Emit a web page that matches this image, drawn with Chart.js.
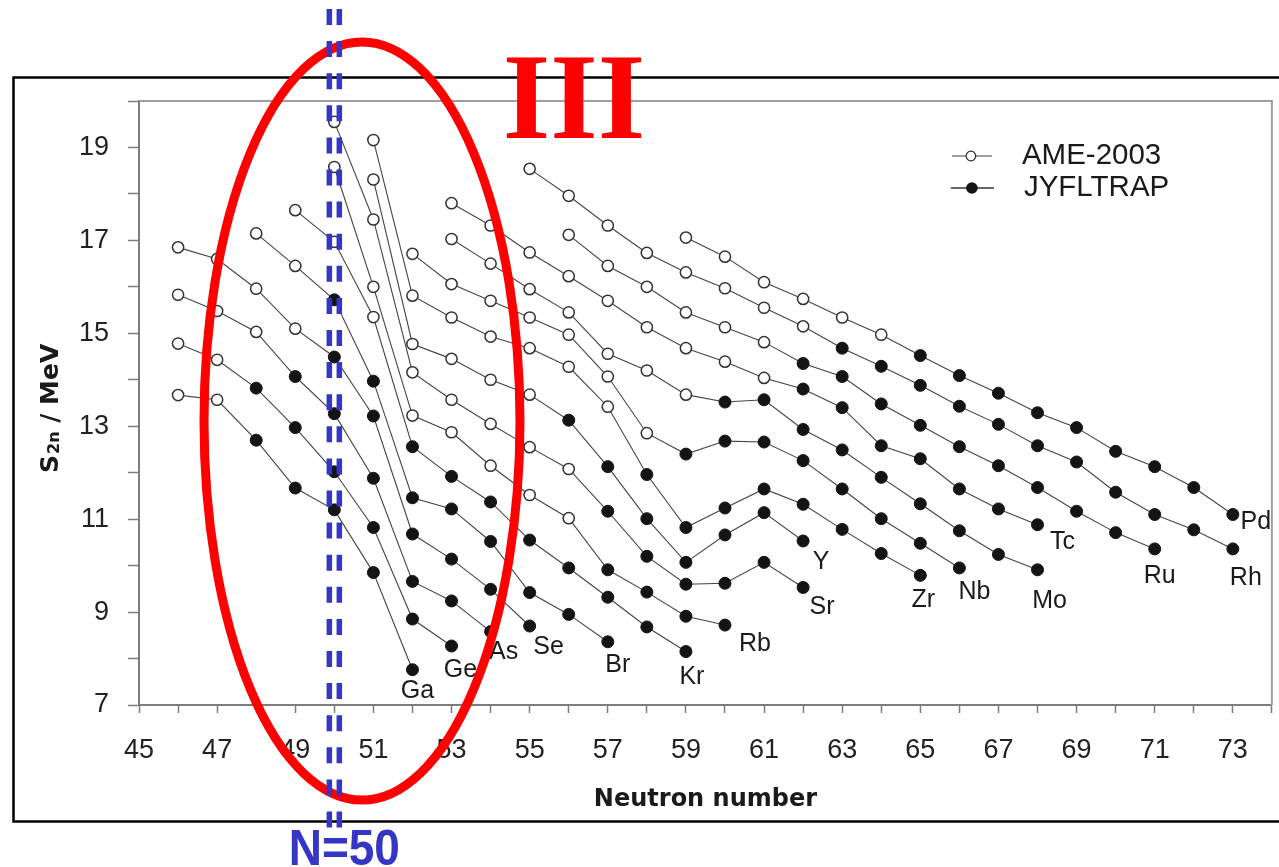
<!DOCTYPE html>
<html>
<head>
<meta charset="utf-8">
<title>Two-neutron separation energies</title>
<script src="https://cdn.jsdelivr.net/npm/chart.js@4/dist/chart.umd.min.js"></script>
<style>
  html, body { margin: 0; padding: 0; background: #fff; overflow: hidden; }
  #wrap { width: 1279px; height: 867px; position: relative; }
  canvas { display: block; }
</style>
</head>
<body>
<div id="wrap"><canvas id="chart" width="1279" height="867"></canvas></div>
<script>
// ---- data ---------------------------------------------------------------
const elements = ['Ga', 'Ge', 'As', 'Se', 'Br', 'Kr', 'Rb', 'Sr', 'Y', 'Zr', 'Nb', 'Mo', 'Tc', 'Ru', 'Rh', 'Pd'];
// neutron number of the first point of each isotope chain
const firstN = [46, 46, 46, 46, 48, 49, 50, 50, 51, 51, 52, 53, 53, 56, 55, 59];
// from this neutron number on, values are JYFLTRAP results (filled symbols)
const firstJyflN = [48, 48, 49, 50, 50, 52, 57, 57, 56, 58, 59, 60, 62, 62, 63, 65];

// S2n in MeV, one value per neutron number starting at firstN
const s2nGa = [13.67, 13.57, 12.70, 11.67, 11.20, 9.85, 7.76];
const s2nGe = [14.78, 14.43, 13.82, 12.97, 12.02, 10.82, 8.85, 8.27];
const s2nAs = [15.83, 15.48, 15.03, 14.07, 13.27, 11.88, 9.66, 9.24, 8.58];
const s2nSe = [16.85, 16.60, 15.96, 15.10, 14.49, 13.22, 10.68, 10.14, 9.49, 8.70];
const s2nBr = [17.15, 16.45, 15.72, 13.97, 11.46, 11.22, 10.52, 9.42, 8.95, 8.36];
const s2nKr = [17.65, 16.97, 15.35, 12.56, 11.92, 11.37, 10.55, 9.95, 9.32, 8.68, 8.15];
const s2nRb = [18.58, 16.00, 13.23, 12.87, 12.15, 11.52, 11.02, 9.91, 9.43, 8.91, 8.72];
const s2nSr = [19.55, 17.45, 14.16, 13.57, 13.05, 12.55, 12.08, 11.17, 10.20, 9.60, 9.62, 10.07, 9.53];
const s2nY  = [18.31, 14.77, 14.45, 14.00, 13.68, 13.13, 12.13, 11.01, 10.07, 10.66, 11.14, 10.53];
const s2nZr = [19.16, 15.81, 15.34, 14.93, 14.68, 14.28, 13.42, 11.96, 10.82, 11.24, 11.65, 11.32, 10.78, 10.26, 9.79];
const s2nNb = [16.71, 16.06, 15.70, 15.34, 14.97, 14.07, 12.85, 12.40, 12.68, 12.66, 12.26, 11.65, 11.01, 10.48, 9.95];
const s2nMo = [17.03, 16.50, 15.95, 15.45, 14.56, 14.20, 13.68, 13.52, 13.57, 12.93, 12.49, 11.90, 11.33, 10.75, 10.24, 9.91];
const s2nTc = [17.80, 17.32, 16.74, 16.23, 15.70, 15.13, 14.68, 14.39, 14.04, 13.80, 13.40, 12.58, 12.30, 11.65, 11.22, 10.88];
const s2nRu = [17.12, 16.45, 16.00, 15.45, 15.13, 14.81, 14.35, 14.07, 13.48, 13.02, 12.56, 12.15, 11.68, 11.17, 10.71, 10.36];
const s2nRh = [18.54, 17.96, 17.32, 16.73, 16.31, 15.97, 15.55, 15.15, 14.68, 14.29, 13.88, 13.43, 13.04, 12.58, 12.23, 11.58, 11.10, 10.77, 10.36];
const s2nPd = [17.06, 16.65, 16.10, 15.74, 15.34, 14.97, 14.52, 14.09, 13.71, 13.29, 12.97, 12.46, 12.13, 11.68, 11.10];

const s2nSeries = [s2nGa, s2nGe, s2nAs, s2nSe, s2nBr, s2nKr, s2nRb, s2nSr, s2nY, s2nZr, s2nNb, s2nMo, s2nTc, s2nRu, s2nRh, s2nPd];

const neutronTickLabels = [45, 47, 49, 51, 53, 55, 57, 59, 61, 63, 65, 67, 69, 71, 73];
const s2nTickLabels = [7, 9, 11, 13, 15, 17, 19];
const shellClosureN = 50;
const legendLabels = ['AME-2003', 'JYFLTRAP'];

// ---- styling --------------------------------------------------------------
const SANS = "'Liberation Sans', Arial, sans-serif";
const TITLE_FONT = "bold 24px 'DejaVu Sans', sans-serif";
// element-name placement relative to the last point of each chain (px)
const nameOffset = {
  Ga: [5, 21], Ge: [9, 24], As: [13, 21], Se: [19, 21], Br: [10, 23], Kr: [6, 26],
  Rb: [30, 19], Sr: [19, 20], Y: [18, 21], Zr: [3, 25], Nb: [15, 24], Mo: [12, 31],
  Tc: [25, 17], Ru: [5, 27], Rh: [13, 29], Pd: [23, 8]
};
const OPEN_FILL = '#ffffff', OPEN_EDGE = '#333333', SOLID = '#141414';

const datasets = elements.map((el, i) => {
  const data = s2nSeries[i].map((v, k) => ({ x: firstN[i] + k, y: v }));
  const measured = data.map(p => p.x >= firstJyflN[i]);
  return {
    label: el,
    data,
    borderColor: '#444444',
    borderWidth: 1.1,
    tension: 0,
    fill: false,
    clip: false,
    pointRadius: measured.map(m => (m ? 6 : 5.6)),
    pointBackgroundColor: measured.map(m => (m ? SOLID : OPEN_FILL)),
    pointBorderColor: measured.map(m => (m ? SOLID : OPEN_EDGE)),
    pointBorderWidth: measured.map(m => (m ? 1 : 1.5))
  };
});

// frame, axis titles, legend, element names and the N=50 highlight
const decorations = {
  id: 'decorations',
  beforeDraw(chart) {
    const ctx = chart.ctx;
    ctx.save();
    ctx.fillStyle = '#fff';
    ctx.fillRect(0, 0, chart.width, chart.height);
    ctx.strokeStyle = '#000';
    ctx.lineWidth = 2.5;
    ctx.strokeRect(13.5, 77.5, 1290, 744);
    ctx.restore();
  },
  beforeDatasetsDraw(chart) {
    const { ctx, chartArea: a } = chart;
    ctx.save();
    ctx.strokeStyle = '#a0a0a0';
    ctx.lineWidth = 2;
    ctx.beginPath();
    ctx.moveTo(a.left, a.top);
    ctx.lineTo(a.right, a.top);
    ctx.lineTo(a.right, a.bottom);
    ctx.stroke();
    ctx.restore();
  },
  afterDatasetsDraw(chart) {
    const { ctx, chartArea: a } = chart;
    ctx.save();
    // element names at chain ends
    ctx.fillStyle = '#1a1a1a';
    ctx.font = '25px ' + SANS;
    ctx.textAlign = 'center';
    ctx.textBaseline = 'middle';
    elements.forEach((el, i) => {
      const pts = chart.getDatasetMeta(i).data;
      const last = pts[pts.length - 1];
      const [dx, dy] = nameOffset[el];
      ctx.fillText(el, last.x + dx, last.y + dy);
    });

    // legend
    const lx = a.right - 320, ly = a.top + 55;
    ctx.lineWidth = 1.5;
    ctx.strokeStyle = '#808080';
    ctx.beginPath(); ctx.moveTo(lx, ly); ctx.lineTo(lx + 40, ly); ctx.stroke();
    ctx.beginPath(); ctx.arc(lx + 19, ly, 4.8, 0, Math.PI * 2);
    ctx.fillStyle = OPEN_FILL; ctx.fill();
    ctx.strokeStyle = OPEN_EDGE; ctx.lineWidth = 1.3; ctx.stroke();
    ctx.strokeStyle = '#333';
    ctx.lineWidth = 1.5;
    ctx.beginPath(); ctx.moveTo(lx - 1, ly + 32); ctx.lineTo(lx + 42, ly + 32); ctx.stroke();
    ctx.beginPath(); ctx.arc(lx + 20, ly + 32, 5.8, 0, Math.PI * 2);
    ctx.fillStyle = SOLID; ctx.fill();
    ctx.fillStyle = '#1a1a1a';
    ctx.font = '29.5px ' + SANS;
    ctx.textAlign = 'left';
    ctx.fillText(legendLabels[0], lx + 70, ly);
    ctx.fillText(legendLabels[1], lx + 72, ly + 32);

    // x-axis title
    ctx.font = TITLE_FONT;
    ctx.textAlign = 'center';
    ctx.textBaseline = 'alphabetic';
    ctx.fillText('Neutron number', (a.left + a.right) / 2, 806);

    // y-axis title with subscript
    ctx.translate(58, 407);
    ctx.rotate(-Math.PI / 2);
    ctx.textAlign = 'left';
    let u = -66;
    ctx.font = "bold 25px 'DejaVu Sans', sans-serif";
    ctx.fillText('S', u, 0);
    u += ctx.measureText('S').width;
    ctx.font = "bold 16px 'DejaVu Sans', sans-serif";
    ctx.fillText('2n', u + 1, 1);
    u += ctx.measureText('2n').width + 1;
    ctx.font = "bold 25px 'DejaVu Sans', sans-serif";
    ctx.fillText(' / MeV', u, 0);
    ctx.restore();
  },
  afterDraw(chart) {
    const ctx = chart.ctx;
    const xs = chart.scales.x;
    ctx.save();
    // red ellipse around the shell closure
    ctx.strokeStyle = '#ff0000';
    ctx.lineWidth = 9;
    ctx.beginPath();
    ctx.ellipse(362, 421, 158, 379, 0, 0, Math.PI * 2);
    ctx.stroke();

    // "III" marker
    ctx.fillStyle = '#ff0000';
    ctx.font = "bold 122px 'Liberation Serif', 'Times New Roman', serif";
    ctx.textAlign = 'center';
    ctx.textBaseline = 'alphabetic';
    ctx.fillText('III', 574, 138);

    // double dashed line at N = 50
    const px = xs.getPixelForValue(shellClosureN);
    ctx.strokeStyle = '#3535c8';
    ctx.lineWidth = 5.5;
    ctx.setLineDash([16, 16.1]);
    [-5, 5].forEach(off => {
      ctx.beginPath();
      ctx.moveTo(px + off, 9);
      ctx.lineTo(px + off, 828);
      ctx.stroke();
    });
    ctx.setLineDash([]);

    // N=50 caption
    ctx.fillStyle = '#3535c8';
    ctx.font = "bold 50px 'Liberation Sans', Arial, sans-serif";
    ctx.textAlign = 'center';
    ctx.translate(px + 10, 865);
    ctx.scale(0.92, 1);
    ctx.fillText('N=' + shellClosureN, 0, 0);
    ctx.restore();
  }
};

const axisColor = '#7d7d7d';

new Chart(document.getElementById('chart'), {
  type: 'line',
  data: { datasets },
  options: {
    responsive: false,
    animation: false,
    events: [],
    layout: { padding: { left: 0, right: 4, top: 101, bottom: 0 } },
    plugins: { legend: { display: false }, tooltip: { enabled: false } },
    scales: {
      x: {
        type: 'linear',
        min: 45,
        max: 74,
        afterFit(s) { s.height = 162; s.paddingLeft = 0; s.paddingRight = 0; },
        ticks: {
          stepSize: 1,
          autoSkip: false,
          maxRotation: 0,
          padding: 21,
          color: '#222',
          font: { family: SANS, size: 27 },
          callback: v => (neutronTickLabels.includes(v) ? String(v) : '')
        },
        grid: { drawOnChartArea: false, drawTicks: true, tickLength: 8, color: axisColor, tickWidth: 1.5 },
        border: { color: axisColor, width: 2 }
      },
      y: {
        type: 'linear',
        min: 7,
        max: 20,
        afterFit(s) { s.width = 139; s.paddingTop = 0; s.paddingBottom = 0; },
        ticks: {
          stepSize: 1,
          autoSkip: false,
          padding: 19,
          color: '#222',
          font: { family: SANS, size: 27 },
          callback: v => (s2nTickLabels.includes(v) ? String(v) : '')
        },
        grid: { drawOnChartArea: false, drawTicks: true, tickLength: 11, color: axisColor, tickWidth: 1.5 },
        border: { color: axisColor, width: 2 }
      }
    }
  },
  plugins: [decorations]
});
</script>
</body>
</html>
